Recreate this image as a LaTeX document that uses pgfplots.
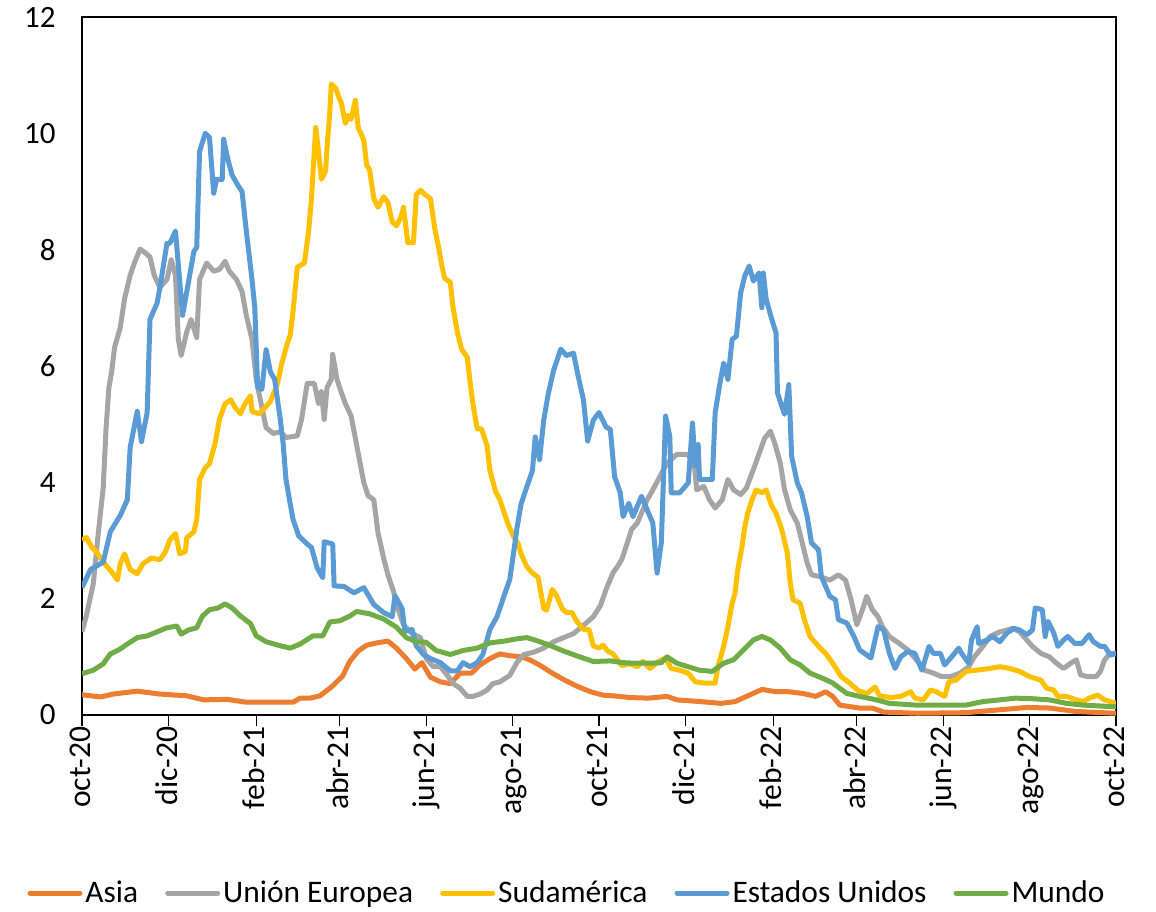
\documentclass[border=0pt]{standalone}
\usepackage{fontspec}
\setmainfont{Carlito}
\usepackage{pgfplots}
\pgfplotsset{compat=1.18}

\definecolor{cAsia}{HTML}{ED7D31}
\definecolor{cUE}{HTML}{A5A5A5}
\definecolor{cSud}{HTML}{FFC000}
\definecolor{cEEUU}{HTML}{5B9BD5}
\definecolor{cMundo}{HTML}{70AD47}

\begin{document}
\begin{tikzpicture}
\useasboundingbox (-41pt,-98pt) rectangle (537pt,357.5pt);
\begin{axis}[
    scale only axis,
    width=517pt, height=349pt,
    xmin=0, xmax=730, ymin=0, ymax=12,
    xtick={0,61,123,182,243,304,365,426,488,547,608,669,730},
    xticklabels={oct-20,dic-20,feb-21,abr-21,jun-21,ago-21,oct-21,dic-21,feb-22,abr-22,jun-22,ago-22,oct-22},
    ytick={0,2,...,12},
    axis line style={black, line width=0.6pt},
    tick align=outside,
    major tick length=5.5pt,
    xtick pos=bottom,
    xtick style={black, line width=0.6pt},
    ytick style={draw=none},
    xticklabel style={rotate=90, anchor=east, font=\fontsize{15.8}{18}\selectfont,
        inner sep=0pt, text height=1.0em, text depth=0.14em},
    yticklabel style={font=\fontsize{15.5}{18}\selectfont, inner sep=0pt, xshift=-7.5pt},
    /pgf/number format/assume math mode=true,
    legend columns=5,
    legend cell align=left,
    legend style={
        draw=none, fill=none,
        at={(0.5,0)}, anchor=center, xshift=-15.75pt, yshift=-89pt,
        font=\fontsize{15.7}{18}\selectfont,
        nodes={inner xsep=1.5pt, inner ysep=1pt},
        /tikz/every even column/.append style={column sep=12pt},
    },
    legend image code/.code={\draw[#1, line width=2.5pt, line cap=round] (1.25pt,0pt) -- (26.25pt,0pt);},
    every axis plot/.append style={line width=2.5pt, line join=round, mark=none},
]
\addplot[cAsia] coordinates {
(0,0.35) (13,0.31) (22,0.36) (39,0.41) (55,0.36) (74,0.33) (86,0.26) (102,0.27) (116,0.22) (133,0.22)
(149,0.22) (154,0.29) (161,0.29) (168,0.33) (177,0.50) (184,0.67) (189,0.92) (195,1.10) (201,1.20)
(208,1.24) (216,1.27) (222,1.15) (229,0.97) (235,0.79) (240,0.90) (246,0.65) (253,0.57) (260,0.54)
(267,0.72) (275,0.72) (281,0.86) (288,0.97) (295,1.05) (302,1.02) (310,1.00) (316,0.95) (323,0.86)
(332,0.72) (340,0.61) (349,0.50) (359,0.40) (368,0.34) (375,0.33) (387,0.30) (400,0.29) (413,0.32)
(420,0.26) (437,0.23) (451,0.20) (461,0.23) (471,0.34) (480,0.44) (490,0.40) (499,0.40) (509,0.37)
(518,0.32) (525,0.40) (530,0.32) (535,0.17) (549,0.12) (558,0.12) (566,0.05) (590,0.03) (624,0.04)
(648,0.09) (667,0.13) (683,0.12) (702,0.06) (730,0.03)
};
\addlegendentry{Asia}
\addplot[cUE] coordinates {
(0,1.43) (3,1.70) (8,2.26) (11,3.01) (15,3.91) (17,4.94) (19,5.63) (21,5.91) (23,6.32) (27,6.66)
(30,7.15) (34,7.56) (37,7.77) (41,8.01) (45,7.94) (48,7.87) (51,7.56) (55,7.35) (60,7.49) (63,7.83)
(66,7.56) (68,6.46) (70,6.18) (74,6.59) (77,6.80) (81,6.49) (83,7.49) (88,7.77) (93,7.63) (97,7.66)
(101,7.80) (104,7.63) (109,7.49) (113,7.28) (116,6.87) (120,6.46) (123,5.77) (127,5.29) (130,4.94)
(135,4.84) (140,4.87) (144,4.77) (152,4.80) (155,5.08) (159,5.70) (164,5.70) (167,5.35) (169,5.56)
(171,5.08) (173,5.63) (176,5.77) (177,6.20) (180,5.77) (183,5.55) (186,5.35) (190,5.14) (194,4.63)
(199,3.99) (202,3.77) (206,3.70) (209,3.13) (213,2.69) (216,2.41) (220,2.12) (223,1.83) (227,1.55)
(233,1.40) (239,1.33) (243,0.97) (248,0.83) (253,0.83) (258,0.68) (262,0.54) (267,0.46) (272,0.32)
(276,0.32) (281,0.36) (286,0.43) (290,0.54) (295,0.57) (302,0.68) (307,0.90) (312,1.04) (319,1.08)
(326,1.15) (333,1.26) (340,1.33) (347,1.40) (354,1.54) (361,1.69) (366,1.88) (370,2.16) (375,2.45)
(378,2.55) (381,2.67) (385,2.96) (388,3.19) (392,3.30) (395,3.47) (399,3.70) (403,3.87) (408,4.10)
(413,4.33) (420,4.48) (427,4.48) (432,4.39) (434,3.87) (439,3.93) (443,3.70) (447,3.56) (452,3.70)
(456,4.05) (460,3.87) (465,3.79) (469,3.90) (474,4.22) (479,4.56) (482,4.76) (486,4.88) (489,4.68)
(493,4.33) (496,3.87) (500,3.53) (505,3.30) (508,3.01) (512,2.61) (515,2.41) (521,2.38) (528,2.32)
(534,2.41) (539,2.32) (543,1.98) (547,1.55) (551,1.81) (554,2.04) (558,1.81) (562,1.69) (565,1.52)
(570,1.35) (577,1.23) (583,1.12) (589,0.95) (595,0.77) (601,0.72) (607,0.66) (613,0.66) (620,0.72)
(626,0.83) (630,1.00) (636,1.18) (641,1.35) (648,1.43) (653,1.46) (657,1.49) (662,1.43) (667,1.29)
(671,1.18) (677,1.06) (683,1.00) (688,0.89) (693,0.80) (698,0.89) (702,0.95) (705,0.69) (710,0.66)
(716,0.66) (719,0.75) (722,0.95) (726,1.06) (730,1.05)
};
\addlegendentry{Unión Europea}
\addplot[cSud] coordinates {
(0,3.01) (3,3.05) (7,2.88) (10,2.81) (14,2.67) (17,2.57) (21,2.46) (25,2.32) (27,2.60) (30,2.77)
(34,2.50) (39,2.43) (43,2.60) (49,2.70) (55,2.67) (59,2.81) (62,3.01) (66,3.12) (69,2.77) (73,2.81)
(74,3.05) (79,3.15) (81,3.36) (83,4.05) (87,4.25) (90,4.32) (94,4.67) (97,5.08) (101,5.35) (105,5.42)
(108,5.29) (112,5.18) (115,5.35) (119,5.49) (120,5.22) (125,5.18) (128,5.25) (133,5.39) (138,5.70)
(141,6.04) (145,6.39) (147,6.53) (149,6.94) (152,7.70) (157,7.77) (160,8.32) (162,8.87) (163,9.28)
(165,10.10) (167,9.69) (169,9.21) (172,9.35) (173,9.76) (175,10.38) (176,10.85) (179,10.78)
(181,10.64) (183,10.53) (186,10.17) (188,10.31) (190,10.24) (193,10.57) (195,10.10) (199,9.88)
(201,9.45) (203,9.38) (206,8.88) (209,8.73) (213,8.91) (216,8.81) (219,8.48) (222,8.41) (225,8.55)
(227,8.73) (230,8.12) (234,8.12) (236,8.95) (239,9.02) (242,8.95) (246,8.88) (249,8.37) (252,8.01)
(254,7.73) (256,7.51) (260,7.44) (262,7.00) (265,6.58) (268,6.29) (272,6.15) (274,5.72) (276,5.35)
(279,4.92) (282,4.92) (286,4.63) (288,4.20) (292,3.84) (295,3.70) (298,3.48) (301,3.27) (305,3.05)
(308,2.94) (310,2.77) (314,2.55) (318,2.44) (322,2.37) (326,1.83) (328,1.80) (332,2.16) (335,2.05)
(339,1.83) (342,1.76) (346,1.76) (349,1.62) (354,1.47) (358,1.47) (361,1.19) (365,1.15) (368,1.20)
(371,1.10) (375,1.05) (381,0.85) (387,0.88) (392,0.83) (396,0.92) (401,0.80) (407,0.92) (412,0.98)
(416,0.80) (422,0.77) (428,0.72) (433,0.57) (439,0.55) (447,0.55) (449,0.83) (453,1.18) (456,1.52)
(459,1.92) (461,2.09) (463,2.50) (466,2.90) (468,3.24) (470,3.47) (473,3.70) (476,3.87) (480,3.82)
(483,3.87) (487,3.59) (490,3.47) (494,3.19) (498,2.78) (500,2.27) (502,1.98) (507,1.92) (510,1.64)
(514,1.35) (520,1.18) (525,1.06) (530,0.89) (536,0.66) (542,0.55) (548,0.42) (554,0.37) (560,0.48)
(563,0.33) (571,0.30) (578,0.32) (585,0.40) (588,0.29) (594,0.26) (599,0.43) (603,0.40) (609,0.32)
(612,0.57) (617,0.60) (624,0.75) (631,0.77) (641,0.80) (648,0.83) (655,0.80) (662,0.75) (669,0.66)
(677,0.60) (681,0.46) (686,0.43) (689,0.32) (695,0.32) (702,0.26) (707,0.23) (711,0.29) (717,0.34)
(722,0.26) (730,0.20)
};
\addlegendentry{Sudamérica}
\addplot[cEEUU] coordinates {
(0,2.19) (6,2.50) (15,2.63) (20,3.15) (27,3.43) (32,3.70) (34,4.60) (39,5.22) (42,4.70) (46,5.20)
(48,6.80) (53,7.08) (55,7.35) (60,8.11) (62,8.11) (66,8.32) (71,6.87) (75,7.42) (79,7.97) (81,8.04)
(83,9.69) (87,10.00) (90,9.93) (93,8.97) (95,9.21) (99,9.21) (100,9.90) (103,9.55) (106,9.28)
(110,9.11) (113,9.00) (116,8.32) (120,7.49) (122,7.00) (124,5.63) (127,5.60) (130,6.28) (133,5.90)
(136,5.77) (140,5.08) (142,4.67) (144,4.05) (147,3.63) (149,3.36) (153,3.08) (159,2.94) (162,2.88)
(166,2.53) (170,2.36) (171,2.98) (177,2.94) (178,2.22) (185,2.21) (192,2.10) (199,2.19) (206,1.90)
(213,1.76) (219,1.69) (221,2.05) (226,1.83) (228,1.44) (233,1.47) (236,1.19) (241,1.04) (246,0.97)
(253,0.90) (260,0.76) (265,0.76) (269,0.90) (274,0.83) (279,0.90) (283,1.04) (288,1.47) (293,1.69)
(298,2.05) (302,2.33) (305,2.84) (307,3.20) (310,3.63) (314,3.92) (318,4.20) (320,4.78) (323,4.39)
(326,5.07) (329,5.50) (333,5.93) (338,6.29) (342,6.18) (347,6.22) (350,5.86) (354,5.42) (357,4.71)
(361,5.07) (365,5.20) (370,4.95) (373,4.91) (376,4.10) (380,3.82) (382,3.41) (386,3.64) (389,3.41)
(395,3.76) (400,3.47) (403,3.30) (406,2.44) (409,2.96) (412,5.14) (415,4.79) (416,3.82) (422,3.82)
(428,3.99) (431,5.02) (433,4.28) (435,4.65) (436,4.05) (445,4.05) (447,5.19) (450,5.65) (453,6.05)
(456,5.77) (459,6.46) (462,6.51) (465,7.26) (468,7.55) (471,7.72) (474,7.46) (478,7.60) (480,7.00)
(481,7.60) (483,7.15) (487,6.80) (490,6.57) (491,5.54) (494,5.31) (496,5.17) (499,5.68) (501,4.45)
(505,3.99) (508,3.82) (512,3.41) (515,2.96) (520,2.84) (522,2.38) (528,2.04) (532,1.98) (534,1.64)
(540,1.58) (545,1.35) (549,1.12) (557,0.98) (562,1.52) (566,1.46) (570,1.06) (574,0.80) (578,1.00)
(583,1.09) (588,1.06) (593,0.77) (598,1.18) (601,1.06) (606,1.06) (609,0.86) (614,1.00) (619,1.15)
(621,1.06) (626,0.89) (628,1.29) (632,1.52) (633,1.23) (639,1.29) (643,1.35) (648,1.26) (653,1.41)
(658,1.49) (662,1.46) (667,1.38) (671,1.46) (673,1.84) (678,1.81) (680,1.35) (682,1.61) (686,1.41)
(689,1.18) (693,1.29) (696,1.35) (701,1.23) (706,1.23) (711,1.38) (714,1.26) (719,1.18) (722,1.18)
(726,1.03) (730,1.06)
};
\addlegendentry{Estados Unidos}
\addplot[cMundo] coordinates {
(0,0.71) (8,0.77) (15,0.88) (20,1.05) (26,1.12) (32,1.22) (39,1.33) (46,1.36) (53,1.43) (60,1.50)
(67,1.53) (70,1.39) (75,1.46) (81,1.50) (85,1.70) (90,1.81) (96,1.84) (101,1.91) (106,1.84) (112,1.70)
(119,1.57) (123,1.36) (130,1.26) (140,1.19) (147,1.15) (154,1.22) (163,1.36) (170,1.36) (175,1.60)
(182,1.62) (189,1.70) (194,1.78) (203,1.74) (213,1.65) (222,1.51) (229,1.33) (236,1.26) (243,1.25)
(250,1.11) (260,1.04) (269,1.11) (279,1.15) (288,1.24) (298,1.27) (307,1.31) (314,1.33) (321,1.28)
(330,1.20) (340,1.10) (349,1.02) (361,0.92) (373,0.93) (382,0.90) (390,0.89) (401,0.89) (409,0.90)
(413,1.00) (420,0.89) (428,0.83) (436,0.77) (445,0.75) (453,0.89) (460,0.95) (467,1.12) (474,1.29)
(480,1.35) (486,1.29) (493,1.15) (500,0.95) (507,0.86) (514,0.72) (523,0.63) (530,0.55) (540,0.37)
(549,0.32) (561,0.26) (570,0.20) (589,0.17) (608,0.17) (624,0.17) (636,0.23) (648,0.26) (659,0.29)
(671,0.28) (683,0.26) (695,0.20) (707,0.17) (730,0.14)
};
\addlegendentry{Mundo}
\end{axis}
\end{tikzpicture}
\end{document}
